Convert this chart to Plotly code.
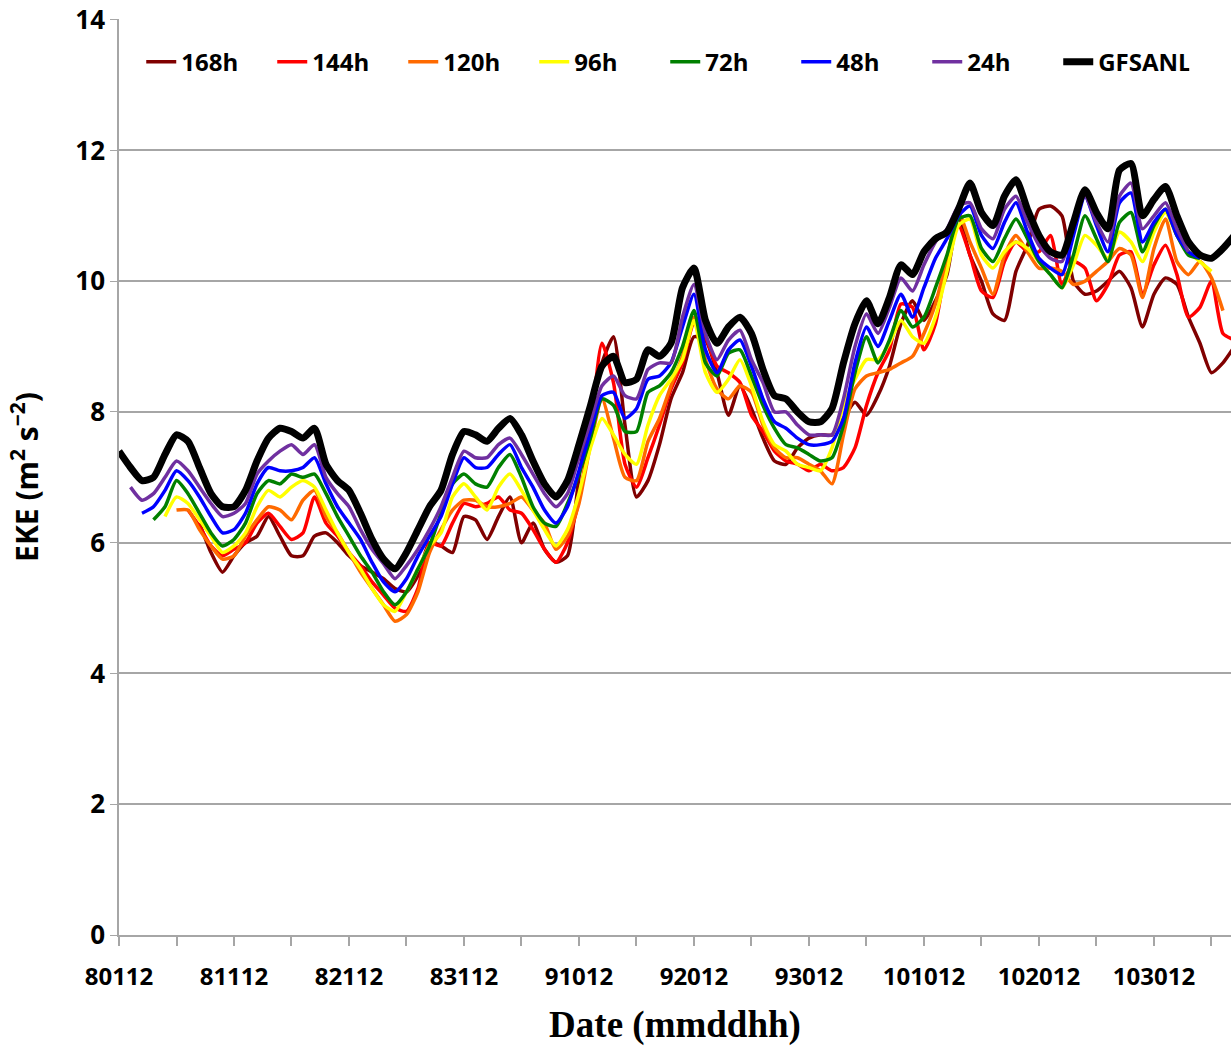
import plotly.graph_objects as go

# x axis: days since 080112 (Aug 1, 12Z); labels every 10 days
TICK_DAYS = [0, 10, 20, 30, 40, 50, 60, 70, 80, 90]
TICK_LABELS = ["80112", "81112", "82112", "83112", "91012",
               "92012", "93012", "101012", "102012", "103012"]

# EKE (m2 s-2), one value per day
gfsanl = [7.4, 7.15, 6.95, 7.0, 7.35, 7.65, 7.55, 7.15, 6.75, 6.55,
          6.55, 6.8, 7.25, 7.6, 7.75, 7.7, 7.6, 7.75, 7.2, 6.95,
          6.8, 6.45, 6.05, 5.75, 5.6, 5.85, 6.2, 6.55, 6.8, 7.35,
          7.7, 7.65, 7.55, 7.75, 7.9, 7.65, 7.25, 6.9, 6.7, 6.95,
          7.5, 8.1, 8.7, 8.85, 8.45, 8.5, 8.95, 8.85, 9.05, 9.9,
          10.2, 9.4, 9.05, 9.3, 9.45, 9.2, 8.65, 8.25, 8.2, 8.0,
          7.85, 7.85, 8.05, 8.75, 9.35, 9.7, 9.35, 9.75, 10.25, 10.1,
          10.45, 10.65, 10.75, 11.1, 11.5, 11.05, 10.85, 11.3, 11.55, 11.1,
          10.7, 10.45, 10.4, 10.9, 11.4, 11.05, 10.8, 11.7, 11.8, 11.0,
          11.25, 11.45, 11.0, 10.6, 10.4, 10.35, 10.5, 10.7]

f24h = [6.85, 6.65, 6.75, 7.0, 7.25, 7.1, 6.85, 6.6, 6.4,
        6.45, 6.6, 7.05, 7.25, 7.4, 7.5, 7.35, 7.5, 7.0, 6.75,
        6.55, 6.2, 5.9, 5.68, 5.45, 5.65, 5.9, 6.2, 6.55, 7.0,
        7.4, 7.3, 7.3, 7.5, 7.6, 7.35, 7.05, 6.75, 6.55, 6.75,
        7.3, 7.85, 8.4, 8.55, 8.25, 8.2, 8.65, 8.75, 8.75, 9.45,
        9.95, 9.2, 8.8, 9.1, 9.25, 8.8, 8.45, 8.0, 8.0, 7.8,
        7.65, 7.65, 7.65, 8.2, 9.0, 9.5, 9.2, 9.6, 10.05, 9.85,
        10.25, 10.6, 10.8, 11.15, 11.2, 10.8, 10.65, 11.1, 11.3, 10.9,
        10.55, 10.35, 10.3, 10.9, 11.3, 10.9, 10.6, 11.3, 11.5, 10.8,
        11.0, 11.2, 10.8, 10.45]

f48h = [6.45, 6.55, 6.8, 7.1, 6.95, 6.7, 6.4, 6.15,
        6.2, 6.45, 6.9, 7.15, 7.1, 7.1, 7.15, 7.3, 6.9, 6.55,
        6.3, 6.05, 5.7, 5.4, 5.25, 5.45, 5.8, 6.1, 6.4, 6.9,
        7.3, 7.15, 7.15, 7.35, 7.5, 7.15, 6.85, 6.5, 6.3, 6.55,
        7.1, 7.7, 8.25, 8.3, 7.9, 8.05, 8.5, 8.55, 8.75, 9.3,
        9.8, 8.95, 8.6, 8.95, 9.1, 8.7, 8.2, 7.85, 7.75, 7.6,
        7.5, 7.5, 7.55, 7.9, 8.75, 9.3, 9.0, 9.4, 9.8, 9.45,
        9.9, 10.35, 10.65, 11.0, 11.15, 10.7, 10.5, 10.9, 11.2, 10.75,
        10.35, 10.2, 10.1, 10.7, 11.3, 10.85, 10.45, 11.2, 11.35, 10.6,
        10.9, 11.1, 10.7, 10.45, 10.35]

f72h = [6.35, 6.55, 6.95, 6.75, 6.45, 6.15, 5.95,
        6.05, 6.3, 6.75, 6.95, 6.9, 7.05, 7.0, 7.05, 6.75, 6.4,
        6.1, 5.8, 5.55, 5.25, 5.05, 5.25, 5.6, 5.95, 6.45, 6.9,
        7.05, 6.9, 6.85, 7.15, 7.35, 7.0, 6.55, 6.3, 6.25, 6.6,
        7.05, 7.6, 8.2, 8.1, 7.7, 7.7, 8.3, 8.4, 8.6, 9.0,
        9.55, 8.75, 8.55, 8.9, 8.95, 8.55, 8.1, 7.75, 7.5, 7.45,
        7.35, 7.25, 7.3, 7.8, 8.6, 9.15, 8.75, 9.1, 9.55, 9.3,
        9.45, 9.9, 10.4, 10.95, 11.0, 10.5, 10.3, 10.65, 10.95, 10.65,
        10.3, 10.1, 9.9, 10.4, 11.0, 10.65, 10.3, 10.9, 11.05, 10.45,
        10.85, 11.1, 10.7, 10.4, 10.35]

f96h = [6.4, 6.7, 6.6, 6.35, 6.1, 5.85,
        5.95, 6.15, 6.55, 6.8, 6.7, 6.85, 6.95, 6.85, 6.5, 6.15,
        5.85, 5.6, 5.3, 5.05, 4.95, 5.25, 5.6, 5.95, 6.15, 6.7,
        6.9, 6.7, 6.5, 6.85, 7.05, 6.8, 6.5, 6.2, 5.95, 6.2,
        6.75, 7.45, 7.9, 7.65, 7.35, 7.2, 7.8, 8.25, 8.5, 8.8,
        9.4, 8.6, 8.3, 8.5, 8.8, 8.4, 7.85, 7.5, 7.4, 7.2,
        7.15, 7.1, 7.45, 8.1, 8.5, 8.8, 8.8, 9.05, 9.4, 9.15,
        9.05, 9.45, 10.15, 10.85, 10.95, 10.4, 10.2, 10.45, 10.6, 10.5,
        10.3, 10.1, 9.9, 10.25, 10.7, 10.55, 10.35, 10.75, 10.6, 10.3,
        10.75, 11.05, 10.7, 10.45, 10.3, 10.15]

f120h = [6.5, 6.5, 6.2, 5.95, 5.75,
         5.8, 6.1, 6.35, 6.55, 6.5, 6.35, 6.65, 6.8, 6.4, 6.15,
         5.85, 5.55, 5.3, 5.05, 4.8, 4.9, 5.25, 5.85, 6.2, 6.5,
         6.65, 6.65, 6.55, 6.55, 6.6, 6.7, 6.5, 6.3, 5.9, 6.1,
         6.6, 7.5, 8.2, 7.6, 7.0, 6.95, 7.55, 7.9, 8.4, 8.85,
         9.45, 8.8, 8.35, 8.2, 8.4, 8.3, 7.8, 7.45, 7.3, 7.3,
         7.2, 7.1, 6.9, 7.65, 8.35, 8.55, 8.6, 8.65, 8.75, 8.85,
         9.2, 9.65, 10.35, 11.05, 10.6, 10.2, 9.8, 10.4, 10.7, 10.45,
         10.2, 10.2, 10.15, 9.95, 10.0, 10.15, 10.3, 10.5, 10.4, 9.75,
         10.5, 10.95, 10.3, 10.1, 10.3, 10.05, 9.55]

f144h = [6.5, 6.25, 5.95, 5.8,
         5.9, 6.0, 6.3, 6.45, 6.25, 6.05, 6.15, 6.7, 6.3, 6.1,
         5.85, 5.65, 5.4, 5.2, 5.0, 4.95, 5.3, 6.0, 5.95, 6.3,
         6.6, 6.55, 6.6, 6.7, 6.5, 6.45, 6.2, 5.9, 5.7, 6.0,
         6.65, 7.75, 9.05, 8.45, 7.2, 6.85, 7.3, 7.8, 8.35, 8.75,
         9.35, 9.15, 8.7, 8.6, 8.45, 7.95, 7.7, 7.4, 7.25, 7.2,
         7.1, 7.2, 7.1, 7.15, 7.45, 8.1, 8.6, 8.95, 9.65, 9.6,
         8.95, 9.35, 10.3, 10.85, 10.4, 9.85, 9.75, 10.3, 10.6, 10.45,
         10.45, 10.7, 9.95, 10.3, 10.2, 9.7, 9.95, 10.4, 10.45, 9.8,
         10.25, 10.55, 10.1, 9.45, 9.6, 10.0, 9.2, 9.1]

f168h = [6.3, 5.85, 5.55,
         5.8, 6.0, 6.1, 6.4, 6.1, 5.8, 5.8, 6.1, 6.15, 6.0,
         5.8, 5.65, 5.55, 5.45, 5.3, 5.25, 5.5, 6.0, 5.95, 5.85,
         6.4, 6.35, 6.05, 6.4, 6.7, 6.0, 6.3, 5.9, 5.7, 5.8,
         7.0, 8.05, 8.75, 9.15, 7.8, 6.7, 6.95, 7.5, 8.2, 8.6,
         9.15, 9.1, 8.6, 7.95, 8.4, 8.05, 7.6, 7.25, 7.2, 7.45,
         7.6, 7.65, 7.65, 7.9, 8.15, 7.95, 8.25, 8.7, 9.35, 9.7,
         9.4, 9.7, 10.1, 11.0, 10.4, 10.0, 9.5, 9.4, 10.15, 10.55,
         11.1, 11.15, 11.0, 10.0, 9.8, 9.85, 10.0, 10.15, 9.9, 9.3,
         9.8, 10.05, 9.95, 9.45, 9.05, 8.6, 8.75, 9.0]

# (name, first day, values, colour, width) in drawing order
SERIES = [
    ("168h", 7, f168h, "#800000", 3.5),
    ("144h", 6, f144h, "#FF0000", 3.5),
    ("120h", 5, f120h, "#FF6A00", 3.5),
    ("96h", 4, f96h, "#FFFF00", 3.5),
    ("72h", 3, f72h, "#008000", 3.5),
    ("48h", 2, f48h, "#0000FF", 3.5),
    ("24h", 1, f24h, "#7030A0", 3.5),
    ("GFSANL", 0, gfsanl, "#000000", 7),
]

GRID = "#A6A6A6"

fig = go.Figure()
for name, start, vals, color, width in SERIES:
    fig.add_trace(go.Scatter(
        x=list(range(start, start + len(vals))),
        y=vals,
        mode="lines",
        name=name,
        line=dict(color=color, width=width, shape="spline", smoothing=0.6),
    ))

fig.update_layout(
    width=1231,
    height=1046,
    margin=dict(l=119, r=0, t=19, b=111),
    plot_bgcolor="white",
    paper_bgcolor="white",
    font=dict(family="Open Sans, sans-serif", color="black"),
    legend=dict(
        orientation="h",
        x=0.02, y=0.953,
        xanchor="left", yanchor="middle",
        font=dict(size=24, weight="bold"),
        bgcolor="rgba(0,0,0,0)",
        itemwidth=30,
        entrywidth=86,
    ),
    xaxis=dict(
        range=[0, 96.7],
        automargin=False,
        tickmode="array",
        tickvals=TICK_DAYS,
        ticktext=TICK_LABELS,
        ticks="outside",
        ticklen=9,
        tickwidth=1.5,
        tickcolor=GRID,
        minor=dict(ticks="outside", tick0=0, dtick=5, ticklen=9,
                   tickwidth=1.5, tickcolor=GRID, showgrid=False),
        showgrid=False,
        zeroline=False,
        showline=True,
        linecolor=GRID,
        linewidth=1.5,
        tickfont=dict(size=24, weight="bold"),
        ticklabelstandoff=10,
        title=dict(text="Date (mmddhh)", standoff=22,
                   font=dict(family="Liberation Serif, serif", size=37,
                             weight="bold")),
    ),
    yaxis=dict(
        range=[0, 14.01],
        automargin=False,
        dtick=2,
        showgrid=True,
        gridcolor=GRID,
        gridwidth=1.5,
        zeroline=False,
        showline=True,
        linecolor=GRID,
        linewidth=1.5,
        ticks="outside",
        ticklen=7,
        tickcolor=GRID,
        ticklabeloverflow="allow",
        tickfont=dict(size=26, weight="bold"),
        title=dict(text="EKE (m<sup>2</sup> s<sup>\u22122</sup>)", standoff=28,
                   font=dict(size=30, weight="bold")),
    ),
)

# drop the default 8px page margin so the figure fills the window
fig.write_html("out.html", config={"displayModeBar": False},
               post_script="document.body.style.margin = '0';")
